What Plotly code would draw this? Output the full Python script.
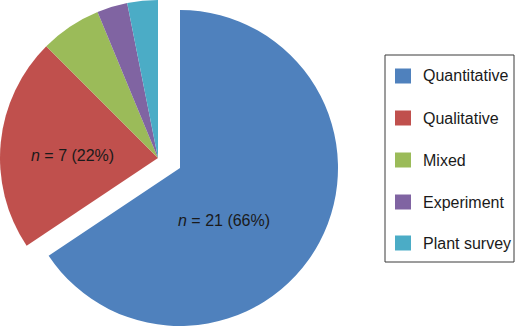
import plotly.graph_objects as go

categories = ["Quantitative", "Qualitative", "Mixed", "Experiment", "Plant survey"]
counts = [21, 7, 2, 1, 1]
colors = ["#4F81BD", "#C0504D", "#9BBB59", "#8064A2", "#4BACC6"]
labelled = {"Quantitative": (224, 220), "Qualitative": (72, 155)}

W, H = 525, 327
FONT = "Liberation Sans, Arial, sans-serif"
total = sum(counts)

def px_x(x):
    return x / W

def px_y(y):
    return 1 - y / H

fig = go.Figure()

# Base pie: all slices except the exploded one
cx, cy, r = 158, 158, 158
fig.add_trace(go.Pie(
    labels=categories, values=counts, sort=False, direction="clockwise",
    marker=dict(colors=["rgba(0,0,0,0)"] + colors[1:], line=dict(width=0)),
    textinfo="none", hoverinfo="skip", showlegend=False,
    domain=dict(x=[px_x(cx - r), px_x(cx + r)], y=[px_y(cy + r), px_y(cy - r)]),
))

# Exploded slice
ex, ey = 180, 168
fig.add_trace(go.Pie(
    labels=categories, values=counts, sort=False, direction="clockwise",
    marker=dict(colors=[colors[0]] + ["rgba(0,0,0,0)"] * 4, line=dict(width=0)),
    textinfo="none", hoverinfo="skip", showlegend=False,
    domain=dict(x=[px_x(ex - r), px_x(ex + r)], y=[px_y(ey + r), px_y(ey - r)]),
))

annotations = []
for cat, v in zip(categories, counts):
    if cat in labelled:
        x, y = labelled[cat]
        pct = round(100 * v / total)
        annotations.append(dict(
            x=px_x(x), y=px_y(y), xref="paper", yref="paper",
            text=f"<i>n</i> = {v} ({pct}%)", showarrow=False,
            font=dict(family=FONT, size=16, color="#1a1a1a"),
            xanchor="center", yanchor="middle",
        ))

# Manual legend
shapes = [dict(type="rect", xref="paper", yref="paper",
               x0=px_x(385), x1=px_x(514), y0=px_y(262), y1=px_y(55),
               line=dict(color="#3a3a3a", width=1), fillcolor="white")]
item_y = [76, 118, 160, 202, 243]
for cat, col, yy in zip(categories, colors, item_y):
    shapes.append(dict(type="rect", xref="paper", yref="paper",
                       x0=px_x(395), x1=px_x(411), y0=px_y(yy + 7.5), y1=px_y(yy - 7.5),
                       line=dict(width=0), fillcolor=col))
    annotations.append(dict(
        x=px_x(421), y=px_y(yy), xref="paper", yref="paper", text=cat,
        showarrow=False, xanchor="left", yanchor="middle",
        font=dict(family=FONT, size=16, color="#1a1a1a"),
    ))

fig.update_layout(
    width=W, height=H, margin=dict(l=0, r=0, t=0, b=0),
    paper_bgcolor="white", plot_bgcolor="white",
    shapes=shapes, annotations=annotations, showlegend=False,
)

fig.write_html("out.html")
